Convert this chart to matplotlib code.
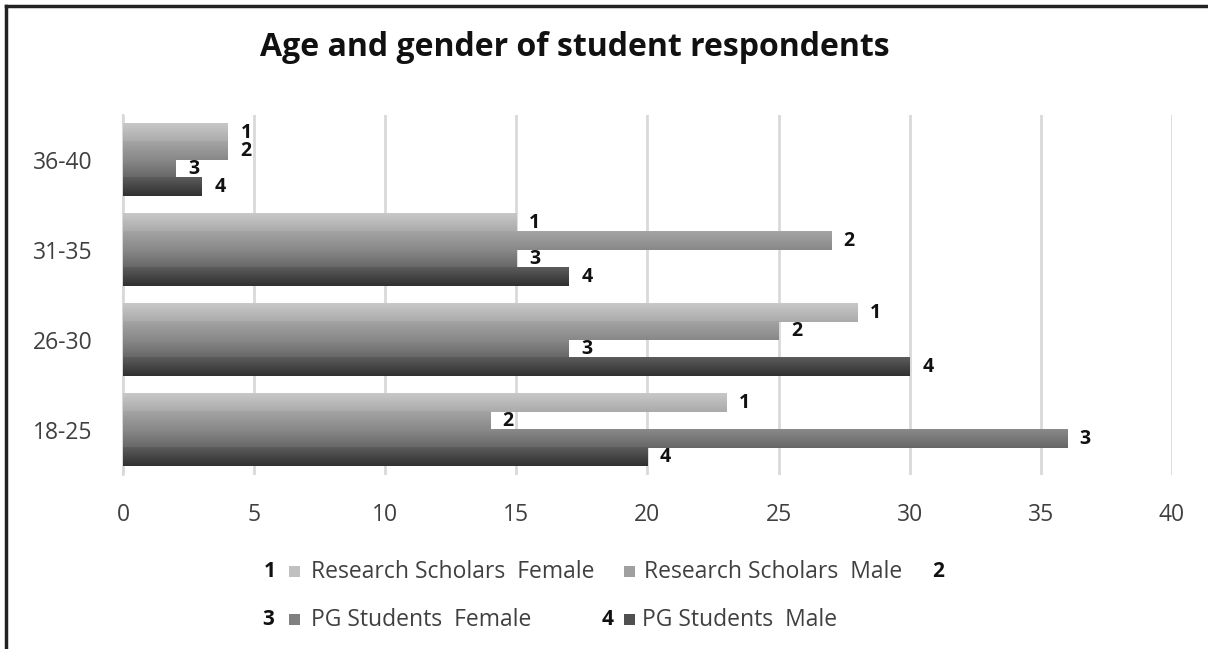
import matplotlib.pyplot as plt
import numpy as np
from matplotlib.colors import LinearSegmentedColormap
from matplotlib.patches import Rectangle
from matplotlib.lines import Line2D

plt.rcParams['font.family'] = ['Open Sans', 'DejaVu Sans']

# 数据
age_groups = ['18-25', '26-30', '31-35', '36-40']
rs_female = [23, 28, 15, 4]
rs_male = [14, 25, 27, 4]
pg_female = [36, 17, 15, 2]
pg_male = [20, 30, 17, 3]
series_names = ['Research Scholars  Female', 'Research Scholars  Male',
                'PG Students  Female', 'PG Students  Male']
series_values = [rs_female, rs_male, pg_female, pg_male]
series_tags = ['1', '2', '3', '4']

# 每个系列的渐变色（上 -> 下）
grad_colors = [('#c8c8c8', '#aaaaaa'),
               ('#a4a4a4', '#888888'),
               ('#8a8a8a', '#666666'),
               ('#5c5c5c', '#303030')]
legend_colors = ['#c0c0c0', '#a0a0a0', '#808080', '#505050']

fig = plt.figure(figsize=(12.08, 6.49), dpi=100, facecolor='white')
ax = fig.add_axes([0.1018, 0.268, 0.8684, 0.5547])

y = np.arange(len(age_groups))
bar_h = 0.2
offsets = [0.3, 0.1, -0.1, -0.3]
grad = np.linspace(0, 1, 64).reshape(-1, 1)

for k, vals in enumerate(series_values):
    bars = ax.barh(y + offsets[k], vals, height=bar_h, color='none',
                   edgecolor='none', zorder=3)
    cmap = LinearSegmentedColormap.from_list('g%d' % k, grad_colors[k])
    for rect in bars:
        x0, y0 = rect.get_x(), rect.get_y()
        w, h = rect.get_width(), rect.get_height()
        ax.imshow(grad, extent=[x0, x0 + w, y0, y0 + h], origin='upper',
                  aspect='auto', cmap=cmap, zorder=3)
    for yi, v in zip(y, vals):
        ax.annotate(series_tags[k], xy=(v, yi + offsets[k]), xytext=(9, 0),
                    textcoords='offset points', va='center', ha='left',
                    fontsize=14, fontweight='bold', color='#111111')

ax.set_xlim(0, 40)
ax.set_ylim(-0.5, 3.5)
ax.set_xticks(range(0, 41, 5))
ax.set_yticks(y)
ax.set_yticklabels(age_groups)
ax.grid(True, axis='x', color='#d9d9d9', linewidth=2, zorder=0)
ax.tick_params(axis='both', length=0, labelsize=16.5, labelcolor='#404040')
ax.tick_params(axis='x', pad=20)
ax.tick_params(axis='y', pad=22)
for s in ['top', 'right', 'bottom']:
    ax.spines[s].set_visible(False)
ax.spines['left'].set_color('#d9d9d9')
ax.spines['left'].set_linewidth(1.5)

# 标题
fig.text(0.4756, 0.927, 'Age and gender of student respondents',
         ha='center', va='center', fontsize=23, fontweight='bold',
         color='#111111')

# 图例（手动排布）：方块x, 文字x, 行y
legend_items = [
    (0.244, 0.2575, 0.1187),
    (0.5215, 0.5335, 0.1187),
    (0.244, 0.2575, 0.0447),
    (0.5215, 0.5315, 0.0447),
]
tag_pos = [(0.218, 0.1187), (0.772, 0.1187), (0.217, 0.0447), (0.498, 0.0447)]
sq_w, sq_h = 11 / 1208, 11 / 649
for k, (mx, tx, ty) in enumerate(legend_items):
    fig.add_artist(Rectangle((mx - sq_w / 2, ty - sq_h / 2), sq_w, sq_h,
                             transform=fig.transFigure,
                             facecolor=legend_colors[k], edgecolor='none'))
    fig.text(tx, ty, series_names[k], ha='left', va='center',
             fontsize=16.5, color='#404040')
    fig.text(tag_pos[k][0], tag_pos[k][1], series_tags[k], ha='left',
             va='center', fontsize=15, fontweight='bold', color='#111111')

# 外框：上边和左边的黑线
fig.add_artist(Line2D([0.005, 1.0], [0.991, 0.991], transform=fig.transFigure,
                      color='#222222', linewidth=2.5))
fig.add_artist(Line2D([0.005, 0.005], [0.0, 0.991], transform=fig.transFigure,
                      color='#222222', linewidth=2.5))

fig.savefig('out.png', dpi=100, facecolor='white')
